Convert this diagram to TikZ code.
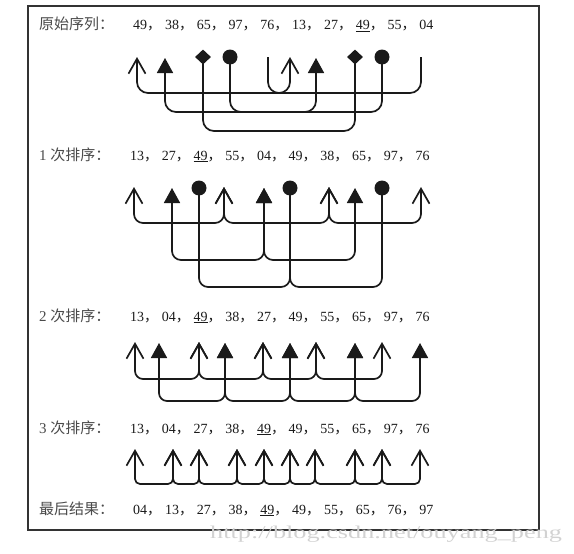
\documentclass[tikz,border=0pt]{standalone}
\usepackage{fontspec}
\setmainfont{Liberation Serif}
\newfontfamily\cjk{Noto Sans CJK SC}
\usetikzlibrary{arrows.meta,shapes.geometric}
\definecolor{ink}{HTML}{1A1A1A}
\definecolor{lbl}{HTML}{4A4A4A}
\definecolor{wmk}{HTML}{D2D2D2}
\definecolor{frm}{HTML}{333333}
\tikzset{
  conn/.style={draw=ink, line width=1.7pt, rounded corners=#1},
  conn/.default=10pt,
  openhead/.style={arrows={Straight Barb[length=15pt,width=17pt]-Straight Barb[length=15pt,width=17pt]}},
  trihead/.style={arrows={Triangle[length=15pt,width=16pt]-Triangle[length=15pt,width=16pt]}},
  dot/.style={circle, fill=ink, inner sep=0pt, minimum size=15pt},
  diam/.style={diamond, fill=ink, inner sep=0pt, minimum width=16pt, minimum height=15pt},
  num/.style={anchor=base west, inner sep=0pt, font=\fontsize{14}{16}\selectfont, text=ink},
  lab/.style={anchor=base west, inner sep=0pt, font=\fontsize{15}{17}\selectfont, text=lbl},
}
\begin{document}
\begin{tikzpicture}[x=1pt,y=-1pt]
\useasboundingbox (0,0) rectangle (574,554);
% frame
\draw[frm, line width=1.3pt] (28,6) rectangle (539,530);

% ---------- text rows ----------
\node[lab] (lab1) at (39,30) {\cjk 原始序列：};
\foreach \v [count=\i] in {49,38,65,97,76,13,27,{\underline{49}},55,04}
  \node[num] (r1n\i) at ({133+31.8*(\i-1)},30) {\v\ifnum\i<10 \cjk ，\fi};

\node[lab] (lab2) at (39,160) {1 \cjk 次排序：};
\foreach \v [count=\i] in {13,27,{\underline{49}},55,04,49,38,65,97,76}
  \node[num] (r2n\i) at ({130+31.7*(\i-1)},160) {\v\ifnum\i<10 \cjk ，\fi};

\node[lab] (lab3) at (39,321) {2 \cjk 次排序：};
\foreach \v [count=\i] in {13,04,{\underline{49}},38,27,49,55,65,97,76}
  \node[num] (r3n\i) at ({130+31.7*(\i-1)},321) {\v\ifnum\i<10 \cjk ，\fi};

\node[lab] (lab4) at (39,433) {3 \cjk 次排序：};
\foreach \v [count=\i] in {13,04,27,38,{\underline{49}},49,55,65,97,76}
  \node[num] (r4n\i) at ({130+31.7*(\i-1)},433) {\v\ifnum\i<10 \cjk ，\fi};

\node[lab] (lab5) at (39,514) {\cjk 最后结果：};
\foreach \v [count=\i] in {04,13,27,38,{\underline{49}},49,55,65,76,97}
  \node[num] (r5n\i) at ({133+31.8*(\i-1)},514) {\v\ifnum\i<10 \cjk ，\fi};

% ---------- row 1 (gap 5) ----------
\coordinate (o1a) at (137,57);  \coordinate (o1b) at (290,57);
\coordinate (t1a) at (165,58);  \coordinate (t1b) at (316,58);
\coordinate (d1a) at (203,57);  \coordinate (d1b) at (355,57);
\coordinate (c1a) at (230,57);  \coordinate (c1b) at (382,57);
\coordinate (p1a) at (268,57);  \coordinate (p1b) at (421,57);
\coordinate (L1a) at (0,93); \coordinate (L1b) at (0,112); \coordinate (L1c) at (0,131);
\draw[conn=11pt, openhead] (o1a) -- (o1a |- L1a) -- (o1b |- L1a) -- (o1b);
\draw[conn=11pt] (p1a) -- (p1a |- L1a) -- (p1b |- L1a) -- (p1b);
\draw[conn=11pt, trihead] (t1a) -- (t1a |- L1b) -- (t1b |- L1b) -- (t1b);
\draw[conn=11pt] (c1a) -- (c1a |- L1b) -- (c1b |- L1b) -- (c1b);
\draw[conn=11pt] (d1a) -- (d1a |- L1c) -- (d1b |- L1c) -- (d1b);
\node[diam] (D1a) at (d1a) {}; \node[diam] (D1b) at (d1b) {};
\node[dot] (C1a) at (c1a) {};  \node[dot] (C1b) at (c1b) {};

% ---------- row 2 (gap 3) ----------
\foreach \x [count=\i] in {134,224,329,421} \coordinate (o2n\i) at (\x,187);
\foreach \x [count=\i] in {172,264,355} \coordinate (t2n\i) at (\x,188);
\foreach \x [count=\i] in {199,290,382} \coordinate (c2n\i) at (\x,188);
\coordinate (L2a) at (0,223); \coordinate (L2b) at (0,260); \coordinate (L2c) at (0,287);
\foreach \i [evaluate=\i as \j using int(\i+1)] in {1,2,3}
  \draw[conn=9pt, openhead] (o2n\i) -- (o2n\i |- L2a) -- (o2n\j |- L2a) -- (o2n\j);
\foreach \i [evaluate=\i as \j using int(\i+1)] in {1,2}
  \draw[conn=9pt, trihead] (t2n\i) -- (t2n\i |- L2b) -- (t2n\j |- L2b) -- (t2n\j);
\foreach \i [evaluate=\i as \j using int(\i+1)] in {1,2}
  \draw[conn=9pt] (c2n\i) -- (c2n\i |- L2c) -- (c2n\j |- L2c) -- (c2n\j);
\foreach \i in {1,2,3} \node[dot] (C2n\i) at (c2n\i) {};

% ---------- row 3 (gap 2) ----------
\foreach \x [count=\i] in {135,199,263,316,382} \coordinate (o3n\i) at (\x,342);
\foreach \x [count=\i] in {159,225,290,355,420} \coordinate (t3n\i) at (\x,343);
\coordinate (L3a) at (0,379); \coordinate (L3b) at (0,401);
\foreach \i [evaluate=\i as \j using int(\i+1)] in {1,...,4}
  \draw[conn=8pt, openhead] (o3n\i) -- (o3n\i |- L3a) -- (o3n\j |- L3a) -- (o3n\j);
\foreach \i [evaluate=\i as \j using int(\i+1)] in {1,...,4}
  \draw[conn=8pt, trihead] (t3n\i) -- (t3n\i |- L3b) -- (t3n\j |- L3b) -- (t3n\j);

% ---------- row 4 (gap 1) ----------
\foreach \x [count=\i] in {135,173,199,237,264,290,315,355,382,420} \coordinate (o4n\i) at (\x,449);
\coordinate (L4) at (0,484);
\foreach \i [evaluate=\i as \j using int(\i+1)] in {1,...,9}
  \draw[conn=5pt, openhead] (o4n\i) -- (o4n\i |- L4) -- (o4n\j |- L4) -- (o4n\j);

% watermark
\node[anchor=base west, inner sep=0pt, text=wmk] (wm) at (210,538)
  {\scalebox{1.46}[1]{\fontsize{18}{20}\selectfont http://blog.csdn.net/ouyang\_peng}};
\end{tikzpicture}
\end{document}
